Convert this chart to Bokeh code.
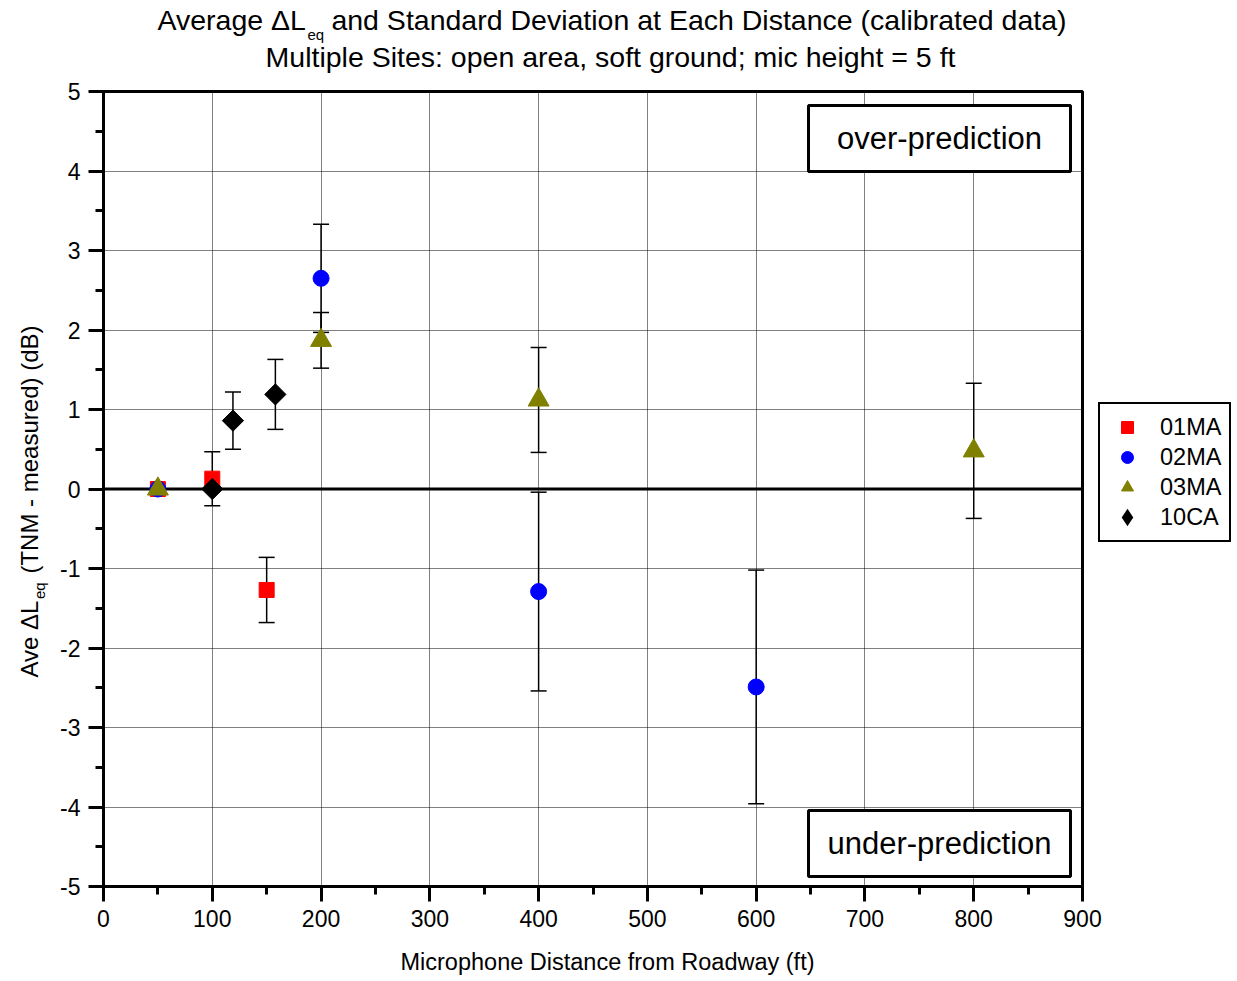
import numpy as np
from bokeh.plotting import figure
from bokeh.layouts import column, row
from bokeh.models import (ColumnDataSource, Whisker, TeeHead, Span, BoxAnnotation, Label,
                          FixedTicker, Legend, LegendItem)
from bokeh.embed import file_html
from bokeh.resources import INLINE

# ---------------- data ----------------
dist_01 = [50, 100, 150]
ave_01 = [0.0, 0.13, -1.27]
sd_01 = [0.0, 0.34, 0.41]

dist_02 = [50, 200, 400, 600]
ave_02 = [0.0, 2.65, -1.29, -2.49]
sd_02 = [0.0, 0.68, 1.25, 1.47]

dist_03 = [50, 200, 400, 800]
ave_03 = [0.0, 1.87, 1.12, 0.48]
sd_03 = [0.0, 0.35, 0.66, 0.85]

dist_10 = [100, 119, 158]
ave_10 = [0.0, 0.86, 1.19]
sd_10 = [0.0, 0.36, 0.44]

series_names = ["01MA", "02MA", "03MA", "10CA"]
x_ticks = [0, 100, 200, 300, 400, 500, 600, 700, 800, 900]
x_minor = [50, 150, 250, 350, 450, 550, 650, 750, 850]
y_ticks = [-5, -4, -3, -2, -1, 0, 1, 2, 3, 4, 5]
y_tick_labels = ["-5", "-4", "-3", "-2", "-1", "0", "1", "2", "3", "4", "5"]
y_minor = [-4.5, -3.5, -2.5, -1.5, -0.5, 0.5, 1.5, 2.5, 3.5, 4.5]

FONT = "Liberation Sans"

# ---------------- layout (page pixels) ----------------
TITLE_H = 80
YLAB_W = 50
FRAME_L, FRAME_T = 103, 91
FW, FH = 979, 795
MAIN_BOTTOM = 55
XLAB_H = 36
XMIN, XMAX, YMIN, YMAX = 0, 900, -5, 5
BASE = 0.42   # label anchor sits this fraction of the font size above the baseline


def dx(px):
    return XMIN + (px - FRAME_L) / FW * (XMAX - XMIN)


def dy(py):
    return YMAX - (py - FRAME_T) / FH * (YMAX - YMIN)


def text_fig(w, h, yr):
    f = figure(width=w, height=h, x_range=(0, w), y_range=yr,
               x_axis_type=None, y_axis_type=None, title=None,
               min_border=0, outline_line_color=None,
               output_backend="svg", toolbar_location=None)
    f.background_fill_color = "white"
    f.border_fill_color = "white"
    return f


def lab(f, x, y, txt, size, align="left", angle=0.0):
    """x, y: wanted baseline position (page pixels for the strip)"""
    if angle == 0.0:
        y = y - BASE * size
    else:
        x = x - BASE * size
    f.add_layout(Label(x=x, y=y, text=txt, text_align=align, text_baseline="alphabetic",
                       text_font=FONT, text_font_size=f"{size}px", text_color="black",
                       angle=angle))


# ---------------- main plot ----------------
main_top = FRAME_T - TITLE_H
p = figure(frame_width=FW, frame_height=FH,
           min_border_left=FRAME_L - YLAB_W, min_border_right=0,
           min_border_top=main_top, min_border_bottom=MAIN_BOTTOM,
           x_range=(XMIN, XMAX), y_range=(YMIN, YMAX),
           output_backend="svg", toolbar_location=None)
p.title.visible = False
p.background_fill_color = "white"
p.border_fill_color = "white"
p.outline_line_color = "black"
p.outline_line_width = 3

for ax in (p.xaxis[0], p.yaxis[0]):
    ax.axis_line_width = 3
    ax.major_tick_line_width = 3
    ax.minor_tick_line_width = 3
    ax.major_tick_out = 15
    ax.major_tick_in = 0
    ax.minor_tick_out = 8
    ax.minor_tick_in = 0
    ax.major_label_text_font = FONT
    ax.major_label_text_font_size = "23px"
    ax.major_label_text_color = "black"
    ax.major_label_standoff = 8

p.xaxis.ticker = FixedTicker(ticks=x_ticks, minor_ticks=x_minor)
p.yaxis.ticker = FixedTicker(ticks=y_ticks, minor_ticks=y_minor)
p.yaxis.major_label_overrides = {t: s for t, s in zip(y_ticks, y_tick_labels)}

for g in (p.xgrid[0], p.ygrid[0]):
    g.grid_line_color = "black"
    g.grid_line_dash = "1 1"
    g.grid_line_width = 1
    g.grid_line_alpha = 1.0

p.add_layout(Span(location=0, dimension="width", line_color="black", line_width=3,
                  level="underlay"))

for d, a, s in ((dist_01, ave_01, sd_01), (dist_02, ave_02, sd_02),
                (dist_03, ave_03, sd_03), (dist_10, ave_10, sd_10)):
    xs = [x for x, e in zip(d, s) if e > 0]
    up = [m + e for m, e in zip(a, s) if e > 0]
    lo = [m - e for m, e in zip(a, s) if e > 0]
    src = ColumnDataSource(dict(x=xs, upper=up, lower=lo))
    p.add_layout(Whisker(base="x", upper="upper", lower="lower", source=src,
                         line_color="black", line_width=1.5,
                         upper_head=TeeHead(size=16, line_width=1.5, line_color="black"),
                         lower_head=TeeHead(size=16, line_width=1.5, line_color="black")))

r1 = p.scatter(dist_01, ave_01, marker="square", size=15, fill_color="#FF0000",
               line_color="#FF0000")
r2 = p.scatter(dist_02, ave_02, marker="circle", size=16, fill_color="#0000FF",
               line_color="#0000FF")
r3 = p.scatter(dist_03, ave_03, marker="triangle", size=21, fill_color="#808000",
               line_color="#808000")
# diamond glyph (lies fully under the big diamonds below; gives the legend its shape)
r4_key = p.scatter(dist_10, ave_10, marker="diamond", size=10, fill_color="black",
                   line_color="black", line_width=3, line_join="miter")
r4 = p.scatter(dist_10, ave_10, marker="square", angle=np.pi / 4, size=15,
               fill_color="black", line_color="black")

lg = Legend(items=[LegendItem(label=series_names[0], renderers=[r1]),
                   LegendItem(label=series_names[1], renderers=[r2]),
                   LegendItem(label=series_names[2], renderers=[r3]),
                   LegendItem(label=series_names[3], renderers=[r4_key])])
p.add_layout(lg, "right")
lg.location = (16, FRAME_T + FH - 542)
lg.margin = 11
lg.padding = 8
lg.spacing = 0
lg.glyph_width = 38
lg.glyph_height = 30
lg.label_standoff = 14
lg.label_text_font = FONT
lg.label_text_font_size = "23.5px"
lg.label_text_color = "black"
lg.border_line_color = "black"
lg.border_line_alpha = 1.0
lg.border_line_width = 2
lg.background_fill_color = "white"
lg.background_fill_alpha = 1

for top, bot, txt in ((105, 171, "over-prediction"), (810, 876, "under-prediction")):
    p.add_layout(BoxAnnotation(left=dx(808), right=dx(1070), top=dy(top), bottom=dy(bot),
                               fill_color="white", fill_alpha=1, line_color="black",
                               line_width=3, line_alpha=1))
    p.add_layout(Label(x=dx(939), y=dy((top + bot) / 2), text=txt, text_align="center",
                       text_baseline="middle", text_font=FONT, text_font_size="31px",
                       text_color="black"))

# ---------------- title strip (data = page pixels) ----------------
tf = text_fig(1235, TITLE_H, (TITLE_H, 0))
TS = 28.5
x0 = 157
w1 = (667 + 500 + 556 + 333 + 556 + 556 + 556 + 278 + 668 + 556) / 1000 * TS
lab(tf, x0, 31, "Average \u0394L", TS)
lab(tf, x0 + w1 + 1, 40, "eq", 15)
lab(tf, 1066, 31, "and Standard Deviation at Each Distance (calibrated data)", TS, "right")
lab(tf, 610, 68, "Multiple Sites: open area, soft ground; mic height = 5 ft", TS, "center")

# ---------------- y-label strip (frame aligned with main frame; data = page y) ----------
main_h = main_top + FH + MAIN_BOTTOM
yf = text_fig(YLAB_W, main_h, (FRAME_T + FH, FRAME_T))
YS = 24
wa = (667 + 500 + 556 + 278 + 668 + 556) / 1000 * YS
lab(yf, 39, 677, "Ave \u0394L", YS, angle=np.pi / 2)
lab(yf, 45, 677 - wa - 1, "eq", 15, angle=np.pi / 2)
lab(yf, 39, 325, "(TNM - measured) (dB)", YS, "right", angle=np.pi / 2)

# ---------------- x-label strip ----------------
xf = text_fig(1235, XLAB_H, (XLAB_H, 0))
lab(xf, 607, 30, "Microphone Distance from Roadway (ft)", 23.5, "center")

layout = column(tf, row(yf, p), xf)
open("out.html", "w").write(file_html(layout, INLINE))
